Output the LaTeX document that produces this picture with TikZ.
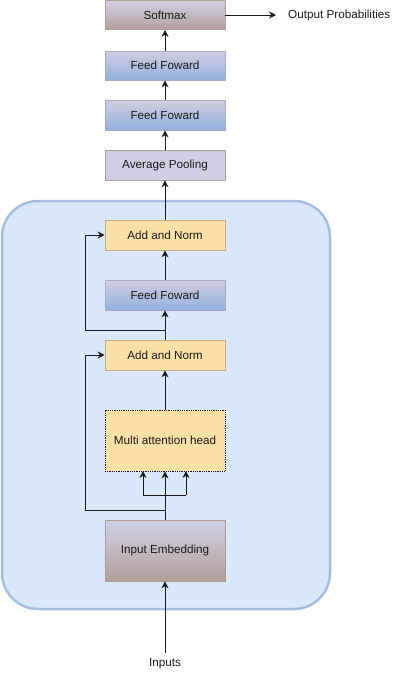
\documentclass[tikz,border=0pt]{standalone}
\usepackage{fontspec}
\setmainfont{Liberation Sans}
\usetikzlibrary{arrows.meta}
\definecolor{lav}{HTML}{D0CEE2}
\definecolor{brn}{HTML}{B39E98}
\definecolor{blu}{HTML}{93B1DE}
\definecolor{yel}{HTML}{FDE0A6}
\definecolor{yelb}{HTML}{C8AA86}
\definecolor{lavb}{HTML}{B09C97}
\definecolor{ffb}{HTML}{A8AACB}
\definecolor{cfill}{HTML}{DAE8FC}
\definecolor{cdraw}{HTML}{A4BDE0}
\definecolor{ink}{HTML}{1A1A1A}
\tikzset{
  box/.style={minimum width=120pt, minimum height=30pt, inner sep=0pt, line width=0.8pt, text=ink, font=\fontsize{11.7}{13}\selectfont},
  brownbox/.style={box, draw=lavb, top color=lav, bottom color=brn, middle color=lav!55!brn},
  bluebox/.style={box, draw=ffb, top color=lav, bottom color=blu},
  plainbox/.style={box, draw=lavb, fill=lav},
  yelbox/.style={box, draw=yelb, fill=yel},
  lbl/.style={text=ink, font=\fontsize{11.7}{13}\selectfont, inner sep=0pt},
  conn/.style={draw=ink, line width=0.9pt, -{Stealth[length=7pt,width=7pt]}},
  seg/.style={draw=ink, line width=0.9pt}
}
\begin{document}
\begin{tikzpicture}[x=1pt, y=-1pt]
\useasboundingbox (0,0) rectangle (406,681);
% container
\draw[fill=cfill, draw=cdraw, line width=2.5pt, rounded corners=36pt] (2,201) rectangle (330,609);
% nodes
\node[brownbox, minimum height=29pt] (sm) at (165,15) {Softmax};
\node[bluebox, minimum height=29pt] (ff1) at (165,65.5) {Feed Foward};
\node[bluebox] (ff2) at (165,115) {Feed Foward};
\node[plainbox] (ap) at (165,165) {Average Pooling};
\node[yelbox] (an1) at (165,235) {Add and Norm};
\node[bluebox] (ff3) at (165,295) {Feed Foward};
\node[yelbox] (an2) at (165,355) {Add and Norm};
\node[yelbox, draw=ink, densely dotted, minimum height=61pt] (mha) at (165,440.5) {Multi attention head};
\node[brownbox, minimum height=61pt] (ie) at (165,550.5) {Input Embedding};
\node[lbl] (inp) at (165,664) {Inputs};
\node[lbl, anchor=west] (out) at (288,15) {Output Probabilities};
% connectors
\coordinate (outend) at (276,15);
\draw[conn] (sm.east) -- (outend);
\draw[conn] (inp.north) ++(0,-6) -- (ie.south);
\draw[conn] (ie.north) -- (mha.south);
\coordinate (br1) at (165,510);
\draw[conn] (br1) -| (85,355) -- (an2.west);
\coordinate (br2) at (165,495);
\draw[seg] (143,495) -- (186,495);
\draw[conn] (143,495) -- (143,471);
\draw[conn] (186,495) -- (186,471);
\draw[conn] (mha.north) -- (an2.south);
\draw[conn] (an2.north) -- (ff3.south);
\coordinate (br3) at (165,330);
\draw[conn] (br3) -| (85,235) -- (an1.west);
\draw[conn] (ff3.north) -- (an1.south);
\draw[conn] (an1.north) -- (ap.south);
\draw[conn] (ap.north) -- (ff2.south);
\draw[conn] (ff2.north) -- (ff1.south);
\draw[conn] (ff1.north) -- (sm.south);
\end{tikzpicture}
\end{document}
